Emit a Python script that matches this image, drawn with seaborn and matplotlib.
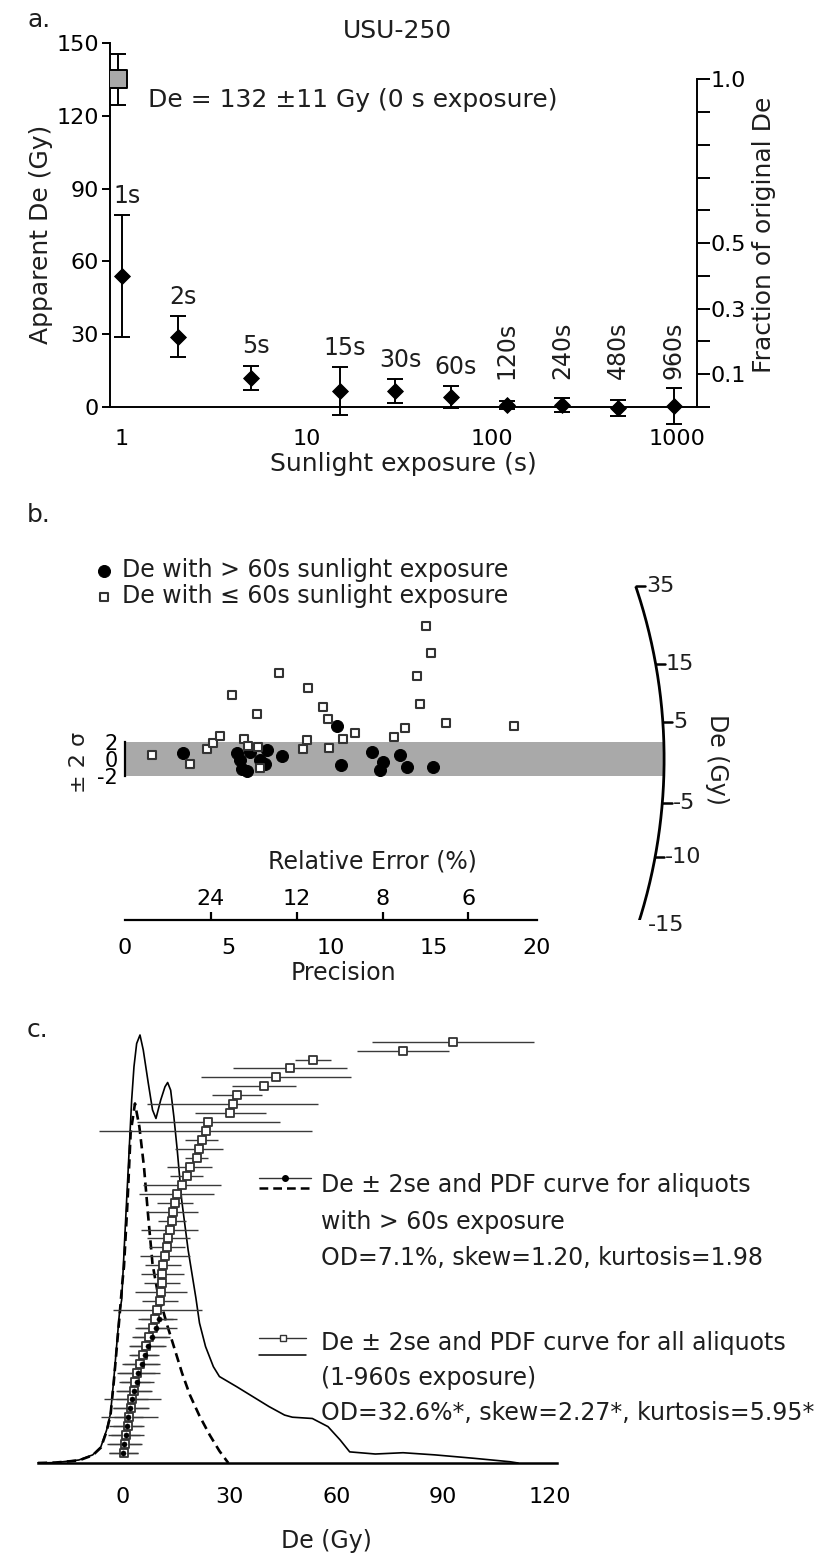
import numpy as np
import matplotlib
matplotlib.use('Agg')
import matplotlib.pyplot as plt
from matplotlib.lines import Line2D
import seaborn as sns

# ---- panel a: bleaching experiment ----
exposure_s = [1, 2, 5, 15, 30, 60, 120, 240, 480, 960]
exposure_labels = ['1s', '2s', '5s', '15s', '30s', '60s', '120s', '240s', '480s', '960s']
apparent_de = [54, 29, 12, 6.6, 6.6, 4.1, 0.8, 0.8, -0.4, 0.4]
apparent_err = [25, 8.5, 5, 9.7, 5, 4.5, 1.5, 3, 3.3, 7.5]
zero_de = 135
zero_err = 10.5
frac_ticks = [0, 0.1, 0.2, 0.3, 0.4, 0.5, 0.6, 0.7, 0.8, 0.9, 1.0]
frac_labels = ['', '0.1', '', '0.3', '', '0.5', '', '', '', '', '1.0']

# ---- panel b: radial plot ----
gt60_precision = [2.83, 5.42, 5.58, 5.66, 6.07, 6.55, 6.8, 6.91, 7.6, 10.27, 10.47,
                  11.97, 12.5, 12.38, 13.35, 13.67, 14.93, 5.9]
gt60_z = [0.75, 0.67, -0.1, -1.2, 0.86, -0.1, -0.6, 1.06, 0.35, 3.9, -0.7,
          0.86, -0.3, -1.3, 0.47, -0.9, -0.9, -1.4]
le60_precision = [1.30, 3.16, 4.0, 4.29, 4.61, 5.18, 5.78, 5.99, 6.39, 6.47, 6.55,
                  7.49, 8.66, 8.85, 8.9, 9.59, 9.87, 9.92, 10.6, 11.17, 13.05, 13.6,
                  14.32, 14.16, 14.84, 14.61, 15.58, 18.9]
le60_z = [0.47, -0.6, 1.14, 1.85, 2.7, 7.5, 2.4, 1.53, 5.3, 1.45, -1.1,
          10.1, 1.14, 2.2, 8.4, 6.15, 4.67, 1.26, 2.3, 3.0, 2.6, 3.6,
          6.5, 9.8, 12.5, 15.6, 4.2, 3.9]
precision_ticks = [0, 5, 10, 15, 20]
rel_error_ticks = [24, 12, 8, 6]
arc_ticks = [35, 15, 5, -5, -10, -15]
arc_offset = 27.6
arc_radius = 26.17

# ---- panel c: ranked De (sorted) and PDF curves ----
all_de = [0.2, 0.5, 0.9, 1.3, 1.8, 2.2, 2.6, 3.0, 3.5, 4.0, 4.8, 5.6, 6.6, 7.4, 8.3,
          9.1, 9.6, 10.4, 10.6, 10.9, 11.1, 11.3, 11.8, 12.3, 12.7, 13.2, 13.7, 14.1,
          14.6, 15.1, 16.5, 17.9, 18.8, 20.7, 21.4, 22.1, 23.2, 24.0, 30.2, 30.8, 32.1,
          39.6, 43.0, 47.0, 53.4, 78.7, 92.7]
all_err = [4, 4.5, 5, 4, 8, 5, 4.5, 5, 4, 5, 5, 4, 5, 5, 4.5,
           5, 12.5, 5, 7.3, 5, 6, 5, 7, 5, 6, 8, 4, 7,
           5, 10.6, 11, 4.7, 6.3, 3.3, 6.8, 4.7, 30, 20, 10, 24, 7,
           9, 21, 16, 5, 13, 22.7]
gt60_de = [0.1, 0.4, 0.75, 1.0, 1.5, 2.1, 2.6, 3.2, 3.8, 4.3, 5.4, 6.2, 7.1, 8.2, 9.3, 10.2]
gt60_err = [4, 5, 4, 5, 4, 5, 8, 5, 5, 6, 5, 4, 5, 5, 6, 5]
pdf_all_de = [-23.9, -19.0, -12.4, -8.5, -6.2, -4.6, -3.5, -2.6, -1.8, -1.0, -0.37, 0.56,
              1.5, 2.44, 3.09, 3.84, 4.78, 5.7, 7.1, 8.3, 9.27, 10.6, 11.8, 12.55, 13.4,
              14.3, 15.25, 16.5, 18.3, 20.5, 21.5, 23.2, 25.4, 27.1, 32.0, 36.5, 41.0,
              45.4, 47.6, 53.2, 57.6, 61.0, 63.7, 70.9, 78.7, 87.6, 98.6, 108.7, 111.0]
pdf_all_y = [0, 0.001, 0.007, 0.019, 0.038, 0.077, 0.116, 0.194, 0.272, 0.35, 0.381, 0.537,
             0.692, 0.848, 0.926, 0.98, 1.0, 0.965, 0.888, 0.825, 0.805, 0.848, 0.879, 0.889,
             0.871, 0.809, 0.731, 0.614, 0.498, 0.385, 0.327, 0.272, 0.225, 0.202, 0.178,
             0.155, 0.132, 0.112, 0.107, 0.104, 0.085, 0.054, 0.026, 0.021, 0.024, 0.019,
             0.011, 0.003, 0]
pdf_gt60_de = [-23.9, -19.0, -12.4, -8.5, -6.2, -4.6, -3.5, -2.6, -1.8, -1.0, -0.2, 0.28,
               1.3, 2.15, 3.37, 4.6, 5.9, 7.1, 8.3, 9.6, 10.4, 12.5, 14.6, 16.6, 18.8,
               21.5, 24.4, 27.1, 29.6]
pdf_gt60_y = [0, 0.001, 0.006, 0.018, 0.036, 0.074, 0.112, 0.188, 0.264, 0.34, 0.42, 0.459,
              0.614, 0.771, 0.84, 0.786, 0.692, 0.575, 0.465, 0.405, 0.381, 0.32, 0.264,
              0.21, 0.159, 0.11, 0.065, 0.028, 0]
de_ticks = [0, 30, 60, 90, 120]

W, H = 827, 1562
sns.set_theme(style='white')
plt.rcParams['font.family'] = ['DejaVu Sans']
plt.rcParams['axes.unicode_minus'] = False
plt.rcParams['axes.edgecolor'] = 'black'
plt.rcParams['xtick.color'] = 'black'
plt.rcParams['ytick.color'] = 'black'
plt.rcParams['text.color'] = '#1e1e1e'
plt.rcParams['axes.labelcolor'] = '#1e1e1e'
TK = 16   # tick labels
FS = 18   # axis labels and text

fig = plt.figure(figsize=(W / 100, H / 100), dpi=100)


def px_axes(left, top, right, bottom):
    return fig.add_axes([left / W, 1 - bottom / H, (right - left) / W, (bottom - top) / H])


def fig_text(x, y, s, **kw):
    fig.text(x / W, 1 - y / H, s, **kw)


# ================= panel a =================
ax = px_axes(110, 43, 697, 426.4)
ax.set_xscale('log')
ax.set_xlim(0.86, 1282)
ax.set_ylim(-8, 150)
ax.errorbar(exposure_s, apparent_de, yerr=apparent_err, fmt='none', ecolor='black',
            elinewidth=1.4, capsize=6, capthick=1.4, zorder=2)
sns.scatterplot(x=exposure_s, y=apparent_de, marker='D', s=65, color='black',
                edgecolor='black', ax=ax, zorder=3, legend=False)
ax.errorbar([0.95], [zero_de], yerr=[zero_err], fmt='none', ecolor='black',
            elinewidth=1.4, capsize=6, capthick=1.4, zorder=2)
sns.scatterplot(x=[0.95], y=[zero_de], marker='s', s=160, color='#a8a8a8',
                edgecolor='black', linewidth=1.4, ax=ax, zorder=3, legend=False)
for xs, de, er, lab in zip(exposure_s, apparent_de, apparent_err, exposure_labels):
    if xs >= 120:
        ax.text(xs, max(de + er, 8) + 3.5, lab, rotation=90, ha='center', va='bottom', fontsize=TK + 1)
    else:
        ax.text(xs * 1.06, de + er + 3, lab, ha='center', va='bottom', fontsize=TK + 1)
ax.text(1.38, 126.5, 'De = 132 \u00b111 Gy (0 s exposure)', ha='left', va='center', fontsize=FS)
ax.set_xticks([1, 10, 100, 1000])
ax.set_xticklabels(['1', '10', '100', '1000'])
ax.xaxis.set_minor_locator(matplotlib.ticker.NullLocator())
ax.set_yticks([0, 30, 60, 90, 120, 150])
ax.spines['top'].set_visible(False)
ax.spines['right'].set_visible(False)
ax.spines['bottom'].set_position(('data', 0))
ax.spines['left'].set_bounds(0, 150)
for sp in ax.spines.values():
    sp.set_linewidth(1.4)
ax.tick_params(axis='both', direction='out', length=6, width=1.4, labelsize=TK, pad=2)
ax.tick_params(axis='x', pad=10)
ax.set_ylabel('Apparent De (Gy)', fontsize=FS, labelpad=2)
ax.set_xlabel('Sunlight exposure (s)', fontsize=FS, labelpad=2)
ax.set_title('USU-250', fontsize=FS, pad=0, x=0.49)

ax2 = ax.twinx()
ax2.set_ylim(np.array(ax.get_ylim()) / zero_de)
ax2.set_yticks(frac_ticks)
ax2.set_yticklabels(frac_labels)
for s in ['top', 'left', 'bottom']:
    ax2.spines[s].set_visible(False)
ax2.spines['right'].set_bounds(0, 1.0)
ax2.spines['right'].set_linewidth(1.4)
ax2.tick_params(axis='y', direction='out', length=9, width=1.4, labelsize=TK, pad=1)
ax2.set_ylabel('Fraction of original De', fontsize=FS, labelpad=4)
ax2.grid(False)

fig_text(27, 20, 'a.', fontsize=FS, va='center')

# ================= panel b =================
axb = px_axes(52.9, 542.25, 804.8, 919.65)
axb.set_xlim(-3.5, 33)
axb.set_ylim(-18.9, 25.5)
p0 = axb.transData.transform((0, 0))
p1 = axb.transData.transform((1, 1))
kx, ky = p1[0] - p0[0], p1[1] - p0[1]
rpx = arc_radius * kx
vals = np.linspace(min(arc_ticks), max(arc_ticks), 300)
slopes = np.log((vals + arc_offset) / arc_offset)
arc_x = rpx / np.sqrt(kx ** 2 + (slopes * ky) ** 2)
axb.plot(arc_x, slopes * arc_x, color='black', lw=2.0, solid_capstyle='butt')
for v in arc_ticks:
    s = np.log((v + arc_offset) / arc_offset)
    xx = rpx / np.sqrt(kx ** 2 + (s * ky) ** 2)
    axb.plot([xx, xx + 0.45], [s * xx, s * xx], color='black', lw=1.8)
    axb.text(xx + 0.5, s * xx, str(v), ha='left', va='center', fontsize=TK)
axb.text(28.75, 0, 'De (Gy)', rotation=270, ha='center', va='center', fontsize=TK + 1)

axb.fill_between([0, arc_radius - 0.05], -2, 2, color='#a9a9a9', lw=0, zorder=0)
sns.scatterplot(x=gt60_precision, y=gt60_z, marker='o', s=75, color='black',
                edgecolor='black', ax=axb, zorder=3, label='De with > 60s sunlight exposure')
sns.scatterplot(x=le60_precision, y=le60_z, marker='s', s=32, color='white',
                edgecolor='#333333', linewidth=1.5, ax=axb, zorder=3,
                label='De with \u2264 60s sunlight exposure')
axb.legend(loc='upper left', bbox_to_anchor=(80 / W, 1 - 546 / H), bbox_transform=fig.transFigure,
           frameon=False, fontsize=TK + 1, handletextpad=0.3, labelspacing=0.1, borderpad=0,
           handlelength=1.0)

for s in ['top', 'right']:
    axb.spines[s].set_visible(False)
axb.spines['left'].set_position(('data', 0))
axb.spines['left'].set_bounds(-2, 2)
axb.spines['bottom'].set_bounds(0, 20)
for sp in axb.spines.values():
    sp.set_linewidth(1.6)
axb.set_yticks([-2, 0, 2])
axb.set_xticks(precision_ticks)
axb.tick_params(axis='y', direction='out', length=3, width=1.4, labelsize=TK - 1, pad=2)
axb.tick_params(axis='x', direction='out', length=6, width=1.6, labelsize=TK, pad=7)
axb.set_xlabel('')
axb.set_ylabel('')
fig_text(343, 973, 'Precision', ha='center', va='center', fontsize=TK + 1)
fig_text(79, 762, '\u00b1 2 \u03c3', rotation=90, ha='center', va='center', fontsize=TK)

secb = axb.secondary_xaxis(0.0)
secb.set_xticks([100 / r for r in rel_error_ticks])
secb.set_xticklabels([str(r) for r in rel_error_ticks])
secb.xaxis.set_ticks_position('top')
secb.tick_params(axis='x', direction='out', length=6, width=1.6, labelsize=TK, pad=2)
secb.spines['top'].set_visible(False)
secb.spines['bottom'].set_visible(False)
fig_text(372, 862, 'Relative Error (%)', ha='center', va='center', fontsize=TK + 1)

fig_text(27, 515, 'b.', fontsize=FS, va='center')

# ================= panel c =================
axc = px_axes(34, 1030, 817, 1463)
axc.set_xlim(-25, 195)
axc.set_ylim(0, 433 / 428)
sns.lineplot(x=pdf_all_de, y=pdf_all_y, color='black', lw=1.2, ax=axc, sort=False)
sns.lineplot(x=pdf_gt60_de, y=pdf_gt60_y, color='black', lw=1.9, ax=axc, sort=False,
             linestyle=(0, (3.5, 2)))

axr = axc.twinx()
axr.set_ylim(-1.1, 47.3)
rank_all = np.arange(len(all_de))
rank_gt = np.arange(len(gt60_de))
axr.errorbar(all_de, rank_all, xerr=all_err, fmt='none', ecolor='#3a3a3a', elinewidth=1.0)
axr.errorbar(gt60_de, rank_gt, xerr=gt60_err, fmt='none', ecolor='#3a3a3a', elinewidth=1.0)
sns.scatterplot(x=all_de, y=rank_all, marker='s', s=28, color='white', edgecolor='#333333',
                linewidth=1.3, ax=axr, zorder=3, legend=False)
sns.scatterplot(x=gt60_de, y=rank_gt, marker='o', s=14, color='black', edgecolor='black',
                ax=axr, zorder=4, legend=False)

for a_ in (axc, axr):
    for s in ['top', 'right', 'left']:
        a_.spines[s].set_visible(False)
    a_.set_yticks([])
    a_.grid(False)
axr.spines['bottom'].set_visible(False)
axc.spines['bottom'].set_bounds(-24, 122)
axc.spines['bottom'].set_linewidth(1.8)
axc.set_xticks(de_ticks)
axc.tick_params(axis='x', direction='out', length=7, width=1.8, labelsize=TK, pad=10)
axc.set_xlabel('')
axc.set_ylabel('')
fig_text(326, 1541, 'De (Gy)', ha='center', va='center', fontsize=TK + 1)


# legend keys for panel c
def key_line(x0, x1, y, **kw):
    fig.add_artist(Line2D([x0 / W, x1 / W], [1 - y / H, 1 - y / H], transform=fig.transFigure, **kw))


key_line(259, 311, 1178, color='#333333', lw=1.0)
fig.add_artist(Line2D([285 / W], [1 - 1178 / H], transform=fig.transFigure, marker='o',
                      markersize=4, color='black', lw=0))
key_line(259, 311, 1188, color='black', lw=1.8, linestyle=(0, (3.5, 2)))
key_line(259, 306, 1338, color='#333333', lw=1.0)
fig.add_artist(Line2D([283 / W], [1 - 1338 / H], transform=fig.transFigure, marker='s',
                      markersize=5, markerfacecolor='white', markeredgecolor='#333333', lw=0))
key_line(259, 306, 1355, color='black', lw=1.1)
for y, s in zip([1185, 1222, 1258], ['De \u00b1 2se and PDF curve for aliquots',
                                     'with > 60s exposure',
                                     'OD=7.1%, skew=1.20, kurtosis=1.98']):
    fig_text(321, y, s, fontsize=17, va='center')
for y, s in zip([1343, 1378, 1413], ['De \u00b1 2se and PDF curve for all aliquots',
                                     '(1-960s exposure)',
                                     'OD=32.6%*, skew=2.27*, kurtosis=5.95*']):
    fig_text(321, y, s, fontsize=17, va='center')

fig_text(27, 1030, 'c.', fontsize=FS, va='center')

fig.savefig('out.png', dpi=100)
